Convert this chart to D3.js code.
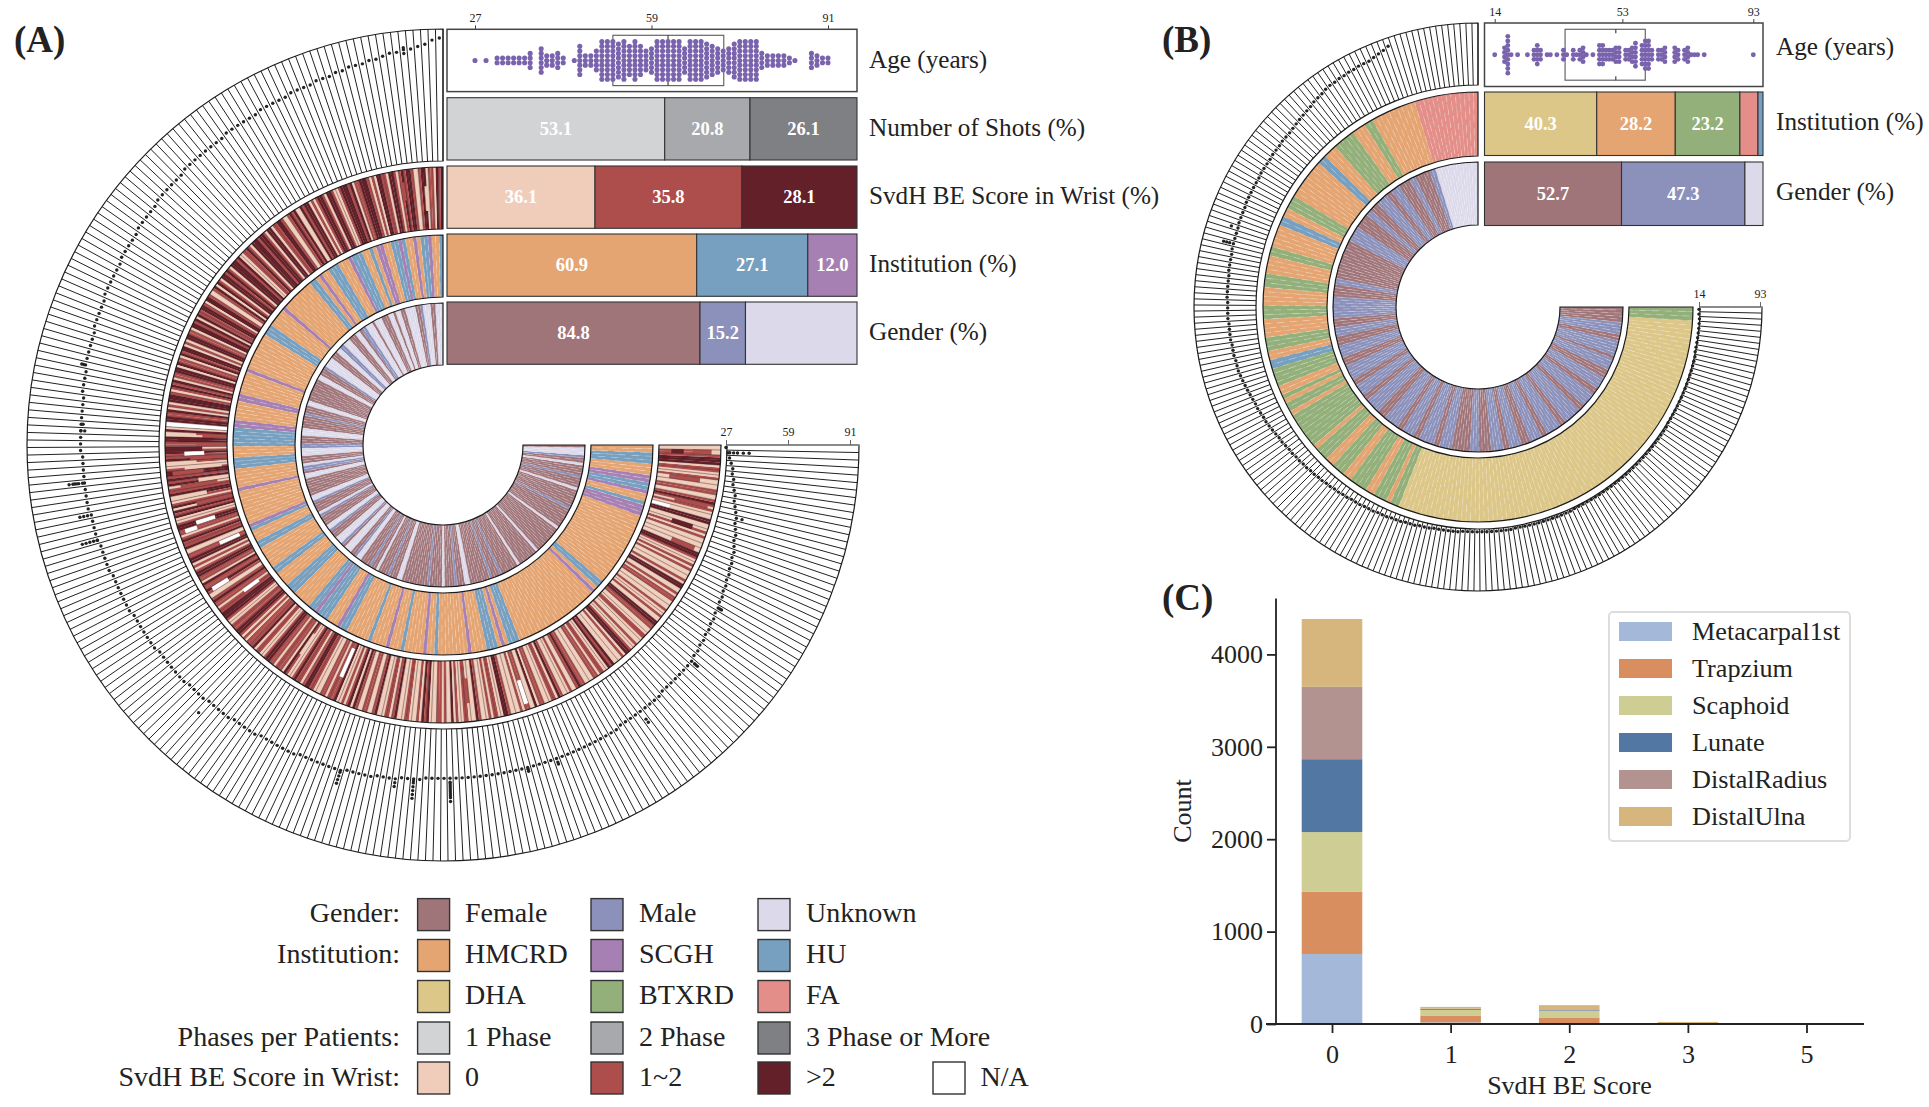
<!DOCTYPE html>
<html><head><meta charset="utf-8">
<script src="https://cdn.jsdelivr.net/npm/d3@7"></script>
<style>html,body{margin:0;padding:0;background:#fff;overflow:hidden}text{font-family:"Liberation Serif",serif;fill:#222}</style>
</head><body><svg id="c" width="1929" height="1107"></svg>
<script>
// ---------- Panel A values (one letter per patient, read going counter-clockwise from 12 o'clock)
const genderRowsA = [
"UUUFFUUUMFFUUUUFFUUF","UUFFFUUUFUUUMMFUUFFF","UUUMMUUFFFUUUUMFFFUU","FFFFFFFFFUUFFFMFFFFF",
"UUUFFFMMUUUFFFUMMFUU","FFFFFFFUUMFFFFUMFFFF","UUMFFFUUUMFUUUFFMUUF","FFFMFFUFFFFMFFFUUFFF",
"FFFFFFFMFFFFFUFFFFMF","FFUUFFFFFFFFMFFFMFFF","FFFFUFFFFFFFFUFFFFFF","FFFFFUFFFFFFFFMFFFFF",
"FFUFFFFMFFFFUFFMUUUF"];
const instRowsA = [
"UHHSUUHSHHUSUUHHSSHU","HHUUUSHHHUUUHHSHUUHH","HHHHHHHSHHHHHUUUHHHH","HHHHHHSHHHHHHSSHHHHH",
"SSUUUUUHHHUUUHHHHHSH","HHHHHHHHSUHHHUUHHHHH","HUUHHHHUUUHHHHHUUSUU","UHHHSUUHHHHHHUHHHHSH",
"HHUHHHHHSHHUHHHHHHHH","SHHHHUUUHSHUUUHHHHHH","HHHHHHHHHHHHHHHHHSHU","UHHHHHHHHHHHHHHHHHHH",
"HSSSUHHSUUSSHHHUUUHH"];
const svdRowsA = [
"2120110221 0012212101 2201122010 1222110212","2210012201 2210102212 0021210012 2110220122",
"1222012110 0212220121 2201202100 1220122112","0212201122 0102212011 2022110212 1012220102",
"1122120210 2211012112 1001221212 0112210120","2120012211 0121120011 2201012211 0211210012",
"1101122210 0111221010 1112011001 2211011102","1001211012 2110001101 1120010120 2100110012",
"0001101200 0110001021 2000110100 2010011000","2100010110 0221000010 1100201100 0110210001",
"0012110000 1101100212 0000102210 0100011000","1122001001 0000110100 2201000010 1001220000",
"0010100022 0001012100 1100001001 1022211100"];
// [patient, inner fraction, outer fraction, score]
const svdPatchesA = [
[88,.37,.69,"n"],[103,.37,.69,"n"],[104,.7,.9,"n"],[109,.1,.45,"n"],[117,.6,.9,"n"],[121,.2,.5,"n"],
[150,.1,.6,"n"],[190,.5,.9,"n"],[245,0,.3,"n"],[82,0,1,"n"],[84,.0,.4,"1"],[84,.5,1,"0"],[85,.3,.8,"2"],
[86,0,.5,"1"],[87,.4,1,"2"],[89,0,.6,"1"],[90,.5,1,"0"],[91,.1,.7,"0"],[92,.4,.9,"1"],[94,0,.5,"0"],
[95,.2,.8,"1"],[97,.4,1,"0"],[99,0,.6,"1"],[258,.55,.85,"1"],[258,.2,.4,"2"],[258,.85,1,"0"],
[252,.2,.7,"1"],[247,.35,.9,"1"],[242,.4,.75,"2"],[238,.5,.9,"1"],[178,.3,.7,"1"],[160,.35,.75,"0"],
[140,.2,.6,"0"],[30,.4,.8,"0"],[8,.5,.8,"1"],[3,.3,.7,"0"]];
const ageRowsA = [
[91,90,88,87,86,86,85,85,84,83,83,82,82,82,81,81,80,80,80,79],
[79,79,79,78,78,78,78,78,77,77,77,77,77,77,76,76,76,76,76,76],
[76,76,75,75,75,75,75,75,74,74,74,74,74,73,73,73,73,73,72,72],
[72,72,72,72,71,71,71,71,71,70,70,70,70,70,70,69,69,69,69,68],
[68,68,68,68,68,68,68,68,67,67,67,67,67,67,67,67,67,66,66,66],
[66,66,65,65,65,65,65,64,64,64,64,64,64,64,63,63,63,63,63,63],
[63,62,62,62,62,62,62,62,61,61,61,61,60,60,60,60,60,59,59,59],
[59,59,58,58,58,58,58,58,58,57,57,57,57,57,57,57,57,56,56,56],
[56,56,55,55,55,55,54,54,54,54,53,53,53,53,53,53,53,53,53,53],
[53,53,53,53,53,53,53,53,53,53,53,53,53,53,53,53,53,53,53,53],
[53,53,53,53,52,52,52,52,52,52,52,52,52,51,51,51,51,51,51,51],
[51,50,50,49,49,48,48,47,47,46,46,45,45,44,44,43,43,42,42,41],
[41,40,39,39,38,37,37,36,35,34,34,33,32,32,31,31,30,29,28,27]];
// extra visits: [patient, age, age...]
const ageExtrasA = [
[258,29,31,33,36,39],[246,40],[174,55,56,57,58,59,60,61,62,63,65],[168,55,56,58,60,62,64],[165,57,59],
[156,58,60,62,64],[132,68],[208,57,59],[192,55,56],[187,54,55],[220,53,54,55],[230,47,48],
[92,68,70,71,72,73,75],[97,68,70,72],[101,66,68,70,72,74],[84,66,68],[83,67],[5,84,87],[74,71,72]];
const swarmAgesA   = [27,29,31,32,33,34,35,36,37,39,40,41,42,43,45,46,47,48,49,50,51,52,53,54,55,56,57,58,59,60,61,62,63,64,65,66,67,68,69,70,71,72,73,74,75,76,77,78,79,80,81,82,83,84,85,88,89,90,91];
const swarmCountsA = [ 1, 1, 2, 2, 2, 2, 2, 2, 4, 6, 3, 3, 4, 2, 1, 7, 3, 3, 5, 9, 9, 9, 8, 9, 7, 9, 7, 5, 6, 9, 9, 9, 9, 9, 6, 9, 9, 9, 8, 7, 6, 5, 6, 8, 9, 9, 9, 9, 4, 3, 3, 3, 3, 2, 1, 4, 3, 2, 2];
const boxA = {q1:52, median:62, q3:72.1};
const ageTicksA = [27,59,91];
const shotsA = [53.1,20.8,26.1];
const svdA = [36.1,35.8,28.1];
const instA = [60.9,27.1,12.0];
const genderWidthA = [61.7,11.1,27.2];
const genderTextA = ["84.8","15.2",""];

// ---------- Panel B values
const genderRowsB = [
"UUUUUUUUUUUUUUMMFFFF","FMMFFFFMMMFFMMMMFFFM","MFFFFFMMMMMFFFFFFFFF","FFFFMMFFFFMMMMMMMFFF",
"MMMFFFMMMMFFFMMMMMFF","MMMMFFMMMMMFFFMMMMMF","FMMMMFFMMMMMFFMMMMFF","FFFFMMMFFFFMMMMFFMMM",
"MFFFMMMMFFMMMMMFFMMM","MMMFFMMMMMFFMMMMFFFM","MMMFMMMMMFFMMMMFFFFF"];
const instRowsB = [
"AAAAAAAAAAAAAAHHHHHH","HHHHBBHHHBBBBBHHHUUH","HHHHHHHHBBBHHUUHHHHH","BBHHHHBBBHHHHBBBHHHH",
"BBBHHUUBBBBHHBHBBHBB","BBBBBBHBBBHHBBBHHBBB","BHHBBBHBBDDDDDDDDDDD","DDDDDDDDDDDDDDDDDDDD",
"DDDDDDDDDDDDDDDDDDDD","DDDDDDDDDDDDDDDDDDDD","DDDDDDDDDDDDDDDDDBBB"];
const ageRowsB = [
[0,0,0,0,0,0,0,0,0,0,0,0,0,0,0,85,82,80,78,76],
[76,76,75,75,74,74,73,73,72,70,69,68,66,65,64,63,62,61,60,60],
[60,59,59,59,58,58,58,58,57,57,57,57,57,57,56,56,56,56,55,55],
[55,55,55,54,54,54,54,53,53,53,53,53,52,52,52,52,51,51,51,51],
[50,50,50,49,49,49,48,47,46,45,44,43,42,42,41,40,40,39,38,37],
[36,36,35,34,34,33,33,32,32,31,31,30,30,29,29,28,28,27,27,26],
[26,26,25,25,25,24,24,24,23,23,23,22,22,22,21,21,21,20,20,20],
[20,20,20,19,19,19,19,19,19,19,19,19,19,19,18,18,18,18,18,18],
[18,18,18,18,18,18,18,17,17,17,17,17,17,17,17,17,17,17,17,17],
[17,17,17,17,17,17,17,17,17,17,17,17,17,17,16,16,16,16,16,16],
[16,16,16,16,16,16,16,16,16,16,15,15,15,15,15,15,15,15,14,14]];
const ageExtrasB = [[58,64],[61,60,64,68]];
const swarmAgesB   = [14,17,18,19,21,24,26,27,28,30,31,33,35,36,38,39,40,41,42,44,46,47,48,49,50,51,52,54,55,56,57,59,60,61,62,64,65,66,69,70,72,73,74,75,76,78,93];
const swarmCountsB = [ 1, 4, 9, 1, 1, 1, 3, 5, 3, 1, 1, 1, 3, 1, 3, 1, 3, 4, 1, 1, 5, 5, 3, 3, 3, 4, 4, 3, 3, 4, 6, 5, 7, 7, 3, 3, 3, 4, 4, 3, 3, 4, 1, 1, 1, 1, 1];
const boxB = {q1:35.5, median:51, q3:60};
const ageTicksB = [14,53,93];
const ageEndTicksB = [14,93];
const instB = [40.3,28.2,23.2,6.5,1.8];
const instTextB = ["40.3","28.2","23.2","",""];
const genderWidthB = [49.2,44.3,6.5];
const genderTextB = ["52.7","47.3",""];

// ---------- Panel C values
const scoresC = ["0","1","2","3","5"];
const jointsC = ["Metacarpal1st","Trapzium","Scaphoid","Lunate","DistalRadius","DistalUlna"];
const metacarpalC = [757,18,3,2,0];
const trapziumC   = [673,69,62,3,0];
const scaphoidC   = [647,66,77,3,0];
const lunateC     = [789,9,7,1,0];
const radiusC     = [783,3,2,1,0];
const ulnaC       = [734,20,53,12,2];
const ticksC = [0,1000,2000,3000,4000];

// ---------- Legend text
const legendRows = [
 ["Gender:",["Female","Male","Unknown"]],
 ["Institution:",["HMCRD","SCGH","HU"]],
 ["",["DHA","BTXRD","FA"]],
 ["Phases per Patients:",["1 Phase","2 Phase","3 Phase or More"]],
 ["SvdH BE Score in Wrist:",["0","1~2",">2","N/A"]]];

// ---------- Colours
const C = {Female:"#a0757a",Male:"#8b91bb",Unknown:"#dcdaea",HMCRD:"#e5a572",SCGH:"#a680b3",HU:"#779fbf",
 DHA:"#dcc789",BTXRD:"#93b07b",FA:"#e38e88","1 Phase":"#d1d3d4","2 Phase":"#a7a9ac","3 Phase or More":"#7e8084",
 "0":"#f0cdbb","1~2":"#ad4e4d",">2":"#632029","N/A":"#ffffff"};
const gMap={F:C.Female,M:C.Male,U:C.Unknown};
const iMapA={H:C.HMCRD,S:C.SCGH,U:C.HU};
const iMapB={H:C.HMCRD,B:C.BTXRD,U:C.HU,D:C.DHA,A:C.FA};
const sMap={"0":C["0"],"1":C["1~2"],"2":C[">2"],n:"#fff"};
const jointColors=["#a4b9d9","#d98e5f","#cece94","#5277a3","#b3938f","#d6b67c"];

const svg=d3.select("#c");
svg.append("rect").attr("width",1929).attr("height",1107).attr("fill","#fff");
const serif='"Liberation Serif",serif';
const SWEEP=-1.5*Math.PI;

function radial(g,ang,r0,r1,stroke,w,op){
  g.append("path").attr("fill","none").attr("stroke",stroke).attr("stroke-width",w).attr("opacity",op||1)
   .attr("d",ang.map(a=>d3.lineRadial()([[a,r0],[a,r1]])).join(""));
}
function colorRing(g,str,cmap,N,r0,r1){
  const a=d3.scaleLinear().domain([0,N]).range([0,SWEEP]);
  const arc=d3.arc().innerRadius(r0).outerRadius(r1);
  g.append("g").selectAll("path").data(str.split("")).join("path")
   .attr("d",(v,i)=>arc({startAngle:a(i),endAngle:a(i+1.04>N?N:i+1.04)}))
   .attr("fill",v=>cmap[v]);
  g.append("g").selectAll("path").data(d3.range(1,N)).join("path")
   .attr("d",i=>d3.lineRadial()([[a(i),r0],[a(i),r1]])).attr("fill","none")
   .attr("stroke","#fff").attr("stroke-width",.7).attr("opacity",.4)
   .attr("stroke-dasharray","7 6").attr("stroke-dashoffset",i=>(i*5)%13);
  frame(g,a,r0,r1);
}
function frame(g,a,r0,r1){
  g.append("path").attr("fill","none").attr("stroke","#1c1c1c").attr("stroke-width",1.2)
   .attr("d",d3.arc().innerRadius(r0).outerRadius(r1).startAngle(0).endAngle(SWEEP)());
}
function ageRing(g,ages,extras,N,r0,r1,dom,rng,ticks){
  const a=d3.scaleLinear().domain([0,N]).range([0,SWEEP]);
  const r=d3.scaleLinear().domain(dom).range(rng);
  radial(g,d3.range(0,N+1).map(a),r0,r1,"#222",1);
  frame(g,a,r0,r1);
  const pts=[];
  ages.forEach((v,i)=>{if(v)pts.push([i,v]);});
  extras.forEach(e=>e.slice(1).forEach(v=>pts.push([e[0],v])));
  g.append("g").selectAll("circle").data(pts).join("circle").attr("r",1.7).attr("fill","#222")
   .attr("cx",d=>r(d[1])*Math.sin(a(d[0]+.5))).attr("cy",d=>-r(d[1])*Math.cos(a(d[0]+.5)));
  const ax=d3.axisTop(r).tickValues(ticks).tickSize(5).tickSizeOuter(0);
  const ag=g.append("g").call(ax);
  ag.select(".domain").attr("stroke","#8a8a8a").attr("stroke-width",2).attr("d",`M${r0},0H${r1}`);
  ag.selectAll(".tick line").attr("stroke","#666");
  ag.selectAll("text").attr("font-size",12).attr("font-family",serif).attr("fill","#333").attr("dy","-.1em");
}
function stackBar(g,x,w,y,h,vals,cols,texts,fs){
  const tot=d3.sum(vals);
  const s=d3.scaleLinear().domain([0,tot]).range([x,x+w]);
  const cum=d3.cumsum(vals);
  vals.forEach((v,i)=>{
    const x0=s(i?cum[i-1]:0),x1=s(cum[i]);
    g.append("rect").attr("x",x0).attr("y",y).attr("width",x1-x0).attr("height",h).attr("fill",cols[i]).attr("stroke","#333").attr("stroke-width",1.1);
    if(texts[i]) g.append("text").attr("x",(x0+x1)/2).attr("y",y+h/2+6).attr("text-anchor","middle")
      .attr("font-size",fs).attr("font-weight","bold").style("fill","#fff").text(texts[i]);
  });
}
function swarm(g,ages,counts,box,x0,w,y,h,ticks,sc,rad,sp){
  const cy=y+h/2;
  g.append("rect").attr("x",x0).attr("y",y).attr("width",w).attr("height",h).attr("fill","#fff").attr("stroke","#444").attr("stroke-width",1.5);
  const pts=[];
  ages.forEach((a,i)=>{for(let k=0;k<counts[i];k++)pts.push([a,k-(counts[i]-1)/2]);});
  g.append("rect").attr("x",sc(box.q1)).attr("y",y+box.t).attr("width",sc(box.q3)-sc(box.q1)).attr("height",h-2*box.t).attr("fill","none").attr("stroke","#666").attr("stroke-width",1.2);
  g.append("g").selectAll("circle").data(pts).join("circle").attr("cx",d=>sc(d[0])).attr("cy",d=>cy+d[1]*sp).attr("r",rad).attr("fill","#7a63ad");
  g.append("line").attr("x1",sc(box.median)).attr("x2",sc(box.median)).attr("y1",y+box.t).attr("y2",y+box.t+4).attr("stroke","#333").attr("stroke-width",1.1);
  g.append("line").attr("x1",sc(box.median)).attr("x2",sc(box.median)).attr("y1",y+h-box.t-4).attr("y2",y+h-box.t).attr("stroke","#333").attr("stroke-width",1.1);
  const ax=d3.axisTop(sc).tickValues(ticks).tickSize(4).tickSizeOuter(0);
  const ag=g.append("g").attr("transform",`translate(0,${y})`).call(ax);
  ag.select(".domain").remove();
  ag.selectAll(".tick line").attr("stroke","#444");
  ag.selectAll("text").attr("font-size",12).attr("font-family",serif).attr("fill","#333");
}
function label(x,y,t,fs,bold,anchor){
  return svg.append("text").attr("x",x).attr("y",y).attr("font-size",fs).attr("font-weight",bold?"bold":"normal").attr("text-anchor",anchor||"start").text(t);
}

// ================= PANEL A
(function(){
  const N=260, g=svg.append("g").attr("transform","translate(443,445)");
  colorRing(g,genderRowsA.join(""),gMap,N,80,142);
  colorRing(g,instRowsA.join(""),iMapA,N,148,210);
  const r0=216,r1=278;
  const a=d3.scaleLinear().domain([0,N]).range([0,SWEEP]);
  const arc=d3.arc().innerRadius(r0).outerRadius(r1);
  const sv=svdRowsA.join("").replace(/ /g,"").split("");
  g.append("g").selectAll("path").data(sv).join("path")
   .attr("d",(v,j)=>arc({startAngle:a(j/2),endAngle:a(Math.min(N,j/2+.53))})).attr("fill",v=>sMap[v]);
  const pr=d3.scaleLinear().domain([0,1]).range([r0,r1]);
  g.append("g").selectAll("path").data(svdPatchesA).join("path")
   .attr("d",d=>d3.arc().innerRadius(pr(d[1])).outerRadius(pr(d[2])).startAngle(a(d[0])).endAngle(a(d[0]+1))())
   .attr("fill",d=>sMap[d[3]]);
  radial(g,d3.range(1,N).map(a),r0,r1,"#2a1416",.5,.8);
  frame(g,a,r0,r1);
  ageRing(g,ageRowsA.flat(),ageExtrasA,N,284,416,[27,91],[283,407],ageTicksA);

  const X=447,W=410,H=62.3;
  const sc=d3.scaleLinear().domain([27,91]).range([475,828]);
  swarm(svg.append("g"),swarmAgesA,swarmCountsA,{...boxA,t:6},X,W,29.3,H,ageTicksA,sc,2.55,4.7);
  const g2=svg.append("g");
  stackBar(g2,X,W,97.7,H,shotsA,[C["1 Phase"],C["2 Phase"],C["3 Phase or More"]],shotsA.map(d=>d.toFixed(1)),18.5);
  stackBar(g2,X,W,166,H,svdA,[C["0"],C["1~2"],C[">2"]],svdA.map(d=>d.toFixed(1)),18.5);
  stackBar(g2,X,W,234,H,instA,[C.HMCRD,C.HU,C.SCGH],instA.map(d=>d.toFixed(1)),18.5);
  stackBar(g2,X,W,302,H,genderWidthA,[C.Female,C.Male,C.Unknown],genderTextA,18.5);
  ["Age (years)","Number of Shots (%)","SvdH BE Score in Wrist (%)","Institution (%)","Gender (%)"].forEach((t,i)=>
    label(869,[68,136,204,272,340][i],t,25.2));
  label(14,52,"(A)",37,true);
})();

// ================= PANEL B
(function(){
  const N=220, g=svg.append("g").attr("transform","translate(1478,307)");
  colorRing(g,genderRowsB.join(""),gMap,N,82,145);
  colorRing(g,instRowsB.join(""),iMapB,N,151,215);
  ageRing(g,ageRowsB.flat(),ageExtrasB,N,222,284,[14,93],[221,282],ageEndTicksB);
  const X=1484.5,W=278.5,H=63.5;
  const sc=d3.scaleLinear().domain([14,93]).range([1494.7,1753.3]);
  swarm(svg.append("g"),swarmAgesB,swarmCountsB,{...boxB,t:6.3},X,W,23,H,ageTicksB,sc,2.45,4.6);
  const g2=svg.append("g");
  stackBar(g2,X,W,92,H,instB,[C.DHA,C.HMCRD,C.BTXRD,C.FA,C.HU],instTextB,18.5);
  stackBar(g2,X,W,162,H,genderWidthB,[C.Female,C.Male,C.Unknown],genderTextB,18.5);
  ["Age (years)","Institution (%)","Gender (%)"].forEach((t,i)=>label(1776,[55,130,200][i],t,25.2));
  label(1162,52,"(B)",37,true);
})();

// ================= PANEL C
(function(){
  const g=svg.append("g");
  const x=d3.scalePoint().domain(scoresC).range([1332,1806.5]);
  const y=d3.scaleLinear().domain([0,4000]).range([1024,654.4]);
  const series=[metacarpalC,trapziumC,scaphoidC,lunateC,radiusC,ulnaC];
  const bw=60.6;
  const rows=scoresC.map((s,i)=>{const o={score:s};jointsC.forEach((j,k)=>o[j]=series[k][i]);return o;});
  const st=d3.stack().keys(jointsC)(rows);
  st.forEach((layer,k)=>{
    g.append("g").attr("fill",jointColors[k]).selectAll("rect").data(layer).join("rect")
     .attr("x",d=>x(d.data.score)-bw/2).attr("width",bw)
     .attr("y",d=>y(d[1])).attr("height",d=>y(d[0])-y(d[1]));
  });
  const ya=g.append("g").attr("transform","translate(1276,0)").call(d3.axisLeft(y).tickValues(ticksC).tickSize(9).tickSizeOuter(0).tickFormat(d3.format("d")));
  ya.select(".domain").attr("d","M0,598.5V1024").attr("stroke","#222").attr("stroke-width",1.8);
  ya.selectAll(".tick line").attr("stroke","#222").attr("stroke-width",1.8);
  ya.selectAll("text").attr("font-size",26).attr("font-family",serif).attr("fill","#222").attr("dx","-1");
  const xa=g.append("g").attr("transform","translate(0,1024)").call(d3.axisBottom(x).tickSize(9).tickSizeOuter(0));
  xa.select(".domain").attr("d","M1266,0H1864").attr("stroke","#222").attr("stroke-width",1.8);
  xa.selectAll(".tick line").attr("stroke","#222").attr("stroke-width",1.8);
  xa.selectAll("text").attr("font-size",26).attr("font-family",serif).attr("fill","#222").attr("dy","1.05em");
  label(1569.5,1094,"SvdH BE Score",26,false,"middle");
  svg.append("text").attr("transform","translate(1191,811) rotate(-90)").attr("text-anchor","middle").attr("font-size",26).text("Count");
  g.append("rect").attr("x",1609).attr("y",612).attr("width",241).attr("height",229).attr("rx",4).attr("fill","#fff").attr("stroke","#ddd").attr("stroke-width",2);
  jointsC.forEach((t,i)=>{
    g.append("rect").attr("x",1619).attr("y",622+i*37).attr("width",53).attr("height",19).attr("fill",jointColors[i]);
    label(1692,639.5+i*37,t,26.2);
  });
  label(1162,610,"(C)",37,true);
})();

// ================= LEGEND
(function(){
  const sx=[417.6,591,758,933], tx=[465,639,806,980.6], ry=[914.6,955.5,996.5,1038,1078];
  legendRows.forEach((row,i)=>{
    if(row[0]) label(400,ry[i]+7.5,row[0],28,false,"end");
    row[1].forEach((t,k)=>{
      svg.append("rect").attr("x",sx[k]).attr("y",ry[i]-16).attr("width",32).attr("height",32)
        .attr("fill",C[t]).attr("stroke","#333").attr("stroke-width",1.4);
      label(tx[k],ry[i]+7.5,t,28);
    });
  });
})();
</script></body></html>
